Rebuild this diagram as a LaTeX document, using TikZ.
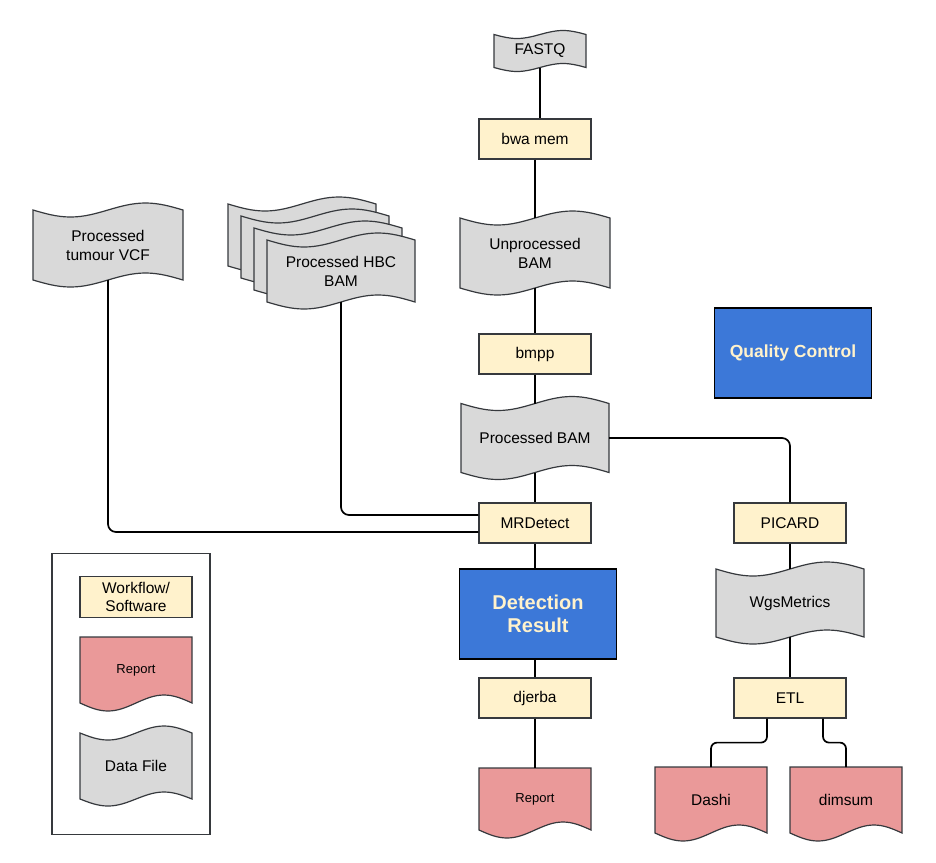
\documentclass[tikz,border=0pt]{standalone}
\usepackage{fontspec}
\setmainfont{Liberation Sans}
\usetikzlibrary{positioning, calc}

\definecolor{wfyellow}{HTML}{FFF2CC}
\definecolor{datagray}{HTML}{D9D9D9}
\definecolor{reppink}{HTML}{EA9999}
\definecolor{qcblue}{HTML}{3C78D8}
\definecolor{qctext}{HTML}{FFF2CC}
\definecolor{edgegray}{HTML}{36393D}

% wavy outlines drawn round an invisible node: #1 node, #2 fill, #3 wave height
\newcommand{\tapeoutline}[3]{%
  \path[shapeline, fill=#2] let \p1=(#1.north west), \p2=(#1.south east),
    \n1={(\x2-\x1)/4} in
    (\p1) sin ++(\n1,#3) cos ++(\n1,-#3) sin ++(\n1,-#3) cos ++(\n1,#3)
    -- (\p2) sin ++(-\n1,-#3) cos ++(-\n1,#3) sin ++(-\n1,#3) cos ++(-\n1,-#3)
    -- cycle;}
\newcommand{\docoutline}[3]{%
  \path[shapeline, fill=#2] let \p1=(#1.north west), \p2=(#1.south east),
    \n1={(\x2-\x1)/4} in
    (\p1) -- (\x2,\y1)
    -- (\p2) sin ++(-\n1,-#3) cos ++(-\n1,#3) sin ++(-\n1,#3) cos ++(-\n1,-#3)
    -- cycle;}

\begin{document}
\begin{tikzpicture}[x=1pt, y=-1pt,
    conn/.style={line width=1.7pt, black},
    shapeline/.style={draw=edgegray, line width=1.2pt},
    wfbox/.style={rectangle, draw=edgegray, line width=1.2pt, fill=wfyellow, minimum width=112pt, minimum height=40pt, align=center, font=\fontsize{15.5}{18.5}\selectfont},
    bluebox/.style={rectangle, draw=black, line width=1.3pt, fill=qcblue, text=qctext, minimum width=157pt, minimum height=90pt, align=center, font=\bfseries\fontsize{20}{23}\selectfont},
    datafile/.style n args={3}{rectangle, minimum width=#1, minimum height=#2, inner sep=0pt, outer sep=0pt, align=center, font=\fontsize{15.5}{19}\selectfont,
      append after command={\pgfextra{\tapeoutline{\tikzlastnode}{datagray}{#3}}}},
    reportdoc/.style n args={3}{rectangle, minimum width=#1, minimum height=#2, inner sep=0pt, outer sep=0pt, align=center, font=\fontsize{15.5}{19}\selectfont,
      append after command={\pgfextra{\docoutline{\tikzlastnode}{reppink}{#3}}}},
    small/.style={font=\fontsize{13}{15}\selectfont}
]
\useasboundingbox (0,0) rectangle (936,862);

% main pipeline
\node (fastq) [datafile={92pt}{33pt}{4}] at (540,51) {FASTQ};
\node (bwa) [wfbox] at (535,139) {bwa mem};
\node (unbam) [datafile={150pt}{70pt}{7}] at (535,253) {Unprocessed\\BAM};
\node (bmpp) [wfbox] at (535,354) {bmpp};
\node (pbam) [datafile={148pt}{69pt}{7}] at (535,438) {Processed BAM};
\node (mrd) [wfbox] at (535,523) {MRDetect};
\node (detres) [bluebox] at (538,614) {Detection\\Result};
\node (djerba) [wfbox] at (535,698) {djerba};
\node (report) [reportdoc={112pt}{62pt}{8}, small] at (535,799) {Report};

% quality control side
\node (qc) [bluebox, font=\bfseries\fontsize{17.5}{21}\selectfont] at (793,353) {Quality Control};
\node (picard) [wfbox] at (790,523) {PICARD};
\node (wgs) [datafile={148pt}{68pt}{7}] at (790,603) {WgsMetrics};
\node (etl) [wfbox] at (790,698) {ETL};
\node (dashi) [reportdoc={112pt}{66pt}{8}] at (711,800) {Dashi};
\node (dimsum) [reportdoc={112pt}{66pt}{8}] at (846,800) {dimsum};

% extra inputs
\node (vcf) [datafile={150pt}{70pt}{7}] at (108,245) {Processed\\tumour VCF};
\foreach \k in {3,2,1}
  \node (hbc\k) [datafile={148pt}{62pt}{7}] at ({341-13*\k},{271-12*\k}) {};
\node (hbc) [datafile={148pt}{62pt}{7}] at (341,271) {Processed HBC\\BAM};

% legend
\node (legend) [draw=edgegray, line width=1.2pt, minimum width=158pt, minimum height=281pt] at (131,694) {};
\node (lgwf) [wfbox, minimum height=41pt] at (136,597) {Workflow/\\Software};
\node (lgrep) [reportdoc={112pt}{66pt}{8}, small] at (136,670) {Report};
\node (lgdata) [datafile={112pt}{66pt}{7}] at (136,766) {Data File};

\draw [conn] (fastq) -- (fastq |- bwa.north);
\draw [conn] (bwa) -- (unbam);
\draw [conn] (unbam) -- (bmpp);
\draw [conn] (bmpp) -- (pbam);
\draw [conn] (pbam) -- (mrd);
\draw [conn] (mrd) -- (mrd |- detres.north);
\draw [conn] (djerba |- detres.south) -- (djerba);
\draw [conn] (djerba) -- (report);
\draw [conn, rounded corners=8pt] (pbam.east) -| (picard.north);
\draw [conn] (picard) -- (wgs);
\draw [conn] (wgs) -- (etl);
\draw [conn, rounded corners=8pt] (vcf.south) |- ([yshift=-9pt]mrd.west);
\draw [conn, rounded corners=8pt] (hbc.south) |- ([yshift=8pt]mrd.west);
\draw [conn, rounded corners=6pt] ([xshift=-23pt]etl.south) -- ++(0,24) -| (dashi.north);
\draw [conn, rounded corners=6pt] ([xshift=33pt]etl.south) -- ++(0,24) -| (dimsum.north);
\end{tikzpicture}
\end{document}
